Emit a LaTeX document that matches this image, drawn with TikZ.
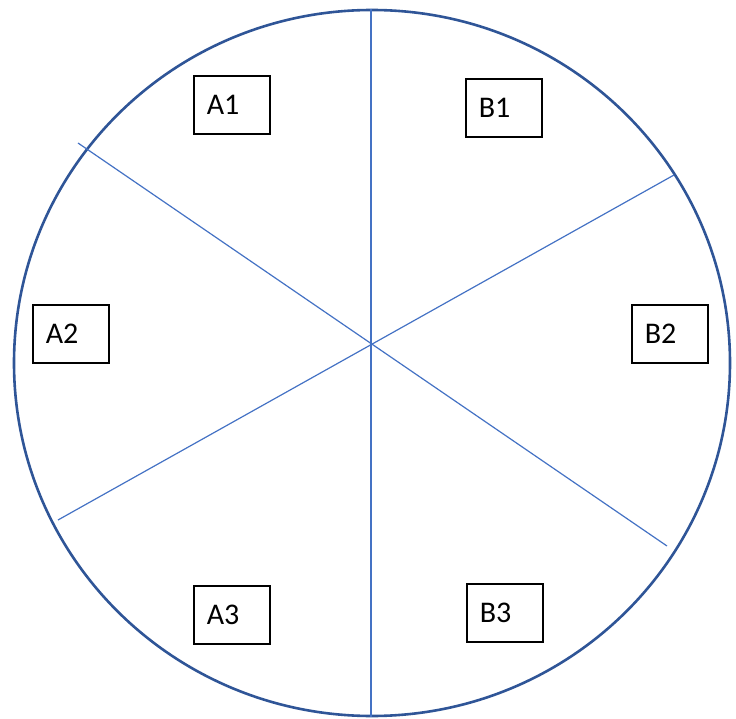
\documentclass[tikz,border=0pt]{standalone}
\usepackage{fontspec}
\setmainfont{Carlito}
\definecolor{ringblue}{HTML}{2F5597}
\definecolor{lineblue}{HTML}{4472C4}
\begin{document}
\begin{tikzpicture}[x=1pt,y=-1pt,
  ring/.style={draw=ringblue,line width=2.6pt},
  spoke/.style={draw=lineblue,line width=1.2pt},
  lbl/.style={draw=black,line width=1.6pt,anchor=north west,text width=50pt,inner xsep=13pt,inner ysep=0pt,minimum height=58pt,align=left,font=\fontsize{30}{30}\selectfont,text height=19pt,text depth=0pt}]
\useasboundingbox (0,0) rectangle (736,719);
\draw[ring] (372,363) ellipse [x radius=358, y radius=353];
\coordinate (c) at (371,344);
\coordinate (t) at (371,9);
\coordinate (b) at (371,717);
\coordinate (ul) at (78,143);
\coordinate (lr) at (667,546);
\coordinate (ll) at (58,520);
\coordinate (ur) at (674,175);
\draw[spoke] (t) -- (b);
\draw[spoke] (ul) -- (lr);
\draw[spoke] (ll) -- (ur);
\node[lbl] (A1) at (193,75) {A1};
\node[lbl] (B1) at (465,78) {B1};
\node[lbl] (A2) at (32,304) {A2};
\node[lbl] (B2) at (631,304) {B2};
\node[lbl] (A3) at (193,585) {A3};
\node[lbl] (B3) at (466,583) {B3};
\end{tikzpicture}
\end{document}
